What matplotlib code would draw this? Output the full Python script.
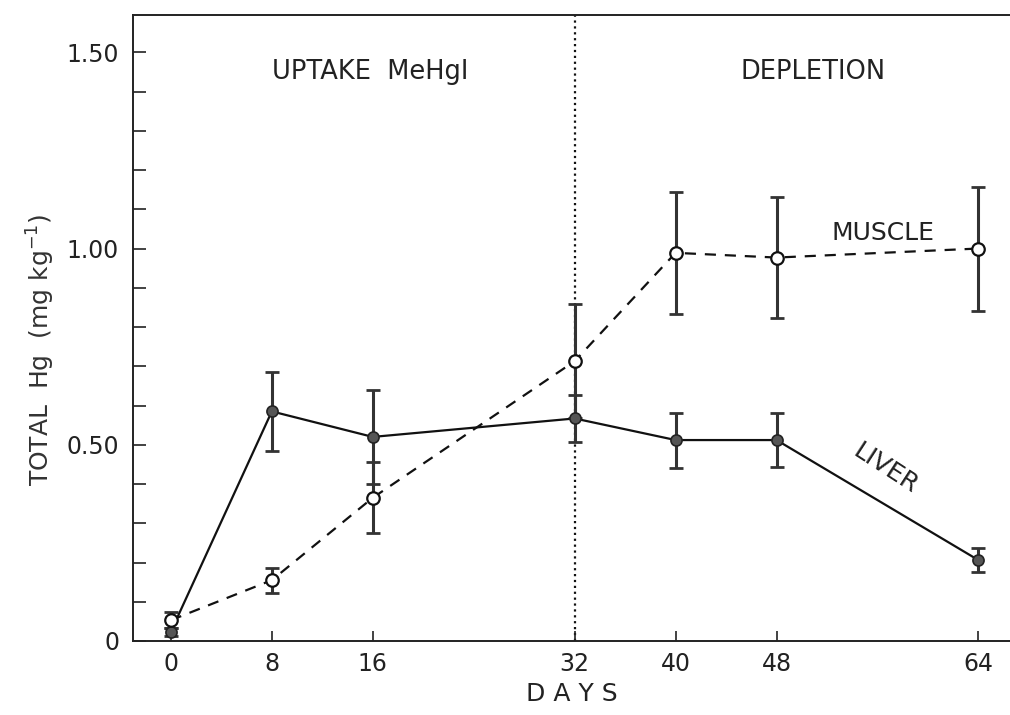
import matplotlib
matplotlib.use("Agg")
import matplotlib.pyplot as plt
from matplotlib.ticker import MultipleLocator

plt.rcParams['font.family'] = ['DejaVu Sans']

days = [0, 8, 16, 32, 40, 48, 64]
liver = [0.024, 0.585, 0.52, 0.567, 0.512, 0.512, 0.206]
liver_err = [0.01, 0.10, 0.12, 0.06, 0.07, 0.068, 0.03]
muscle = [0.053, 0.155, 0.365, 0.713, 0.989, 0.977, 1.0]
muscle_err = [0.02, 0.032, 0.09, 0.145, 0.156, 0.155, 0.158]
yticks = [0, 0.5, 1.0, 1.5]
ytick_labels = ['0', '0.50', '1.00', '1.50']

fig = plt.figure(figsize=(10.1, 7.15), dpi=100)
ax = fig.add_axes([0.1317, 0.1035, 0.8683, 0.8755])

# error bars first, then lines
ax.errorbar(days, liver, yerr=liver_err, fmt='none', ecolor='#333333',
            elinewidth=2.2, capsize=5, capthick=2, zorder=2)
ax.errorbar(days, muscle, yerr=muscle_err, fmt='none', ecolor='#333333',
            elinewidth=2.2, capsize=5, capthick=2, zorder=2)

ax.plot(days, liver, '-', color='#111111', lw=1.6, marker='o', ms=8,
        mfc='#555555', mec='#222222', mew=1.2, zorder=3)
ax.plot(days, muscle, '--', color='#111111', lw=1.6, dashes=(5, 4),
        marker='o', ms=9, mfc='white', mec='#111111', mew=1.6, zorder=4)

ax.axvline(32, color='#111111', ls=':', lw=1.6, zorder=1)

ax.set_xlim(-3, 66.5)
ax.set_ylim(0, 1.595)
ax.set_xticks(days)
ax.set_xticklabels([str(d) for d in days])
ax.set_yticks(yticks)
ax.set_yticklabels(ytick_labels)
ax.yaxis.set_minor_locator(MultipleLocator(0.1))

ax.tick_params(axis='both', which='both', direction='in', labelsize=17,
               color='#222222', labelcolor='#222222', width=1.2)
ax.tick_params(axis='y', which='both', length=9, pad=10)
ax.tick_params(axis='x', which='major', length=7, pad=8)

ax.spines['right'].set_visible(False)
for s in ['left', 'bottom', 'top']:
    ax.spines[s].set_linewidth(1.4)
    ax.spines[s].set_color('#222222')

ax.set_xlabel('D A Y S', fontsize=18, color='#222222', labelpad=4)
ax.set_ylabel('TOTAL  Hg  (mg kg$^{-1}$)', fontsize=18, color='#333333',
              va='center')
ax.yaxis.set_label_coords(-0.105, 0.465)

ax.text(15.8, 1.449, 'UPTAKE  MeHgI', fontsize=18.5, ha='center', va='center',
        color='#222222')
ax.text(50.9, 1.449, 'DEPLETION', fontsize=18.5, ha='center', va='center',
        color='#222222')
ax.text(56.4, 1.039, 'MUSCLE', fontsize=18, ha='center', va='center',
        color='#222222')
ax.text(56.6, 0.44, 'LIVER', fontsize=18, ha='center', va='center',
        rotation=-33, color='#222222')

fig.savefig('out.png', dpi=100)
